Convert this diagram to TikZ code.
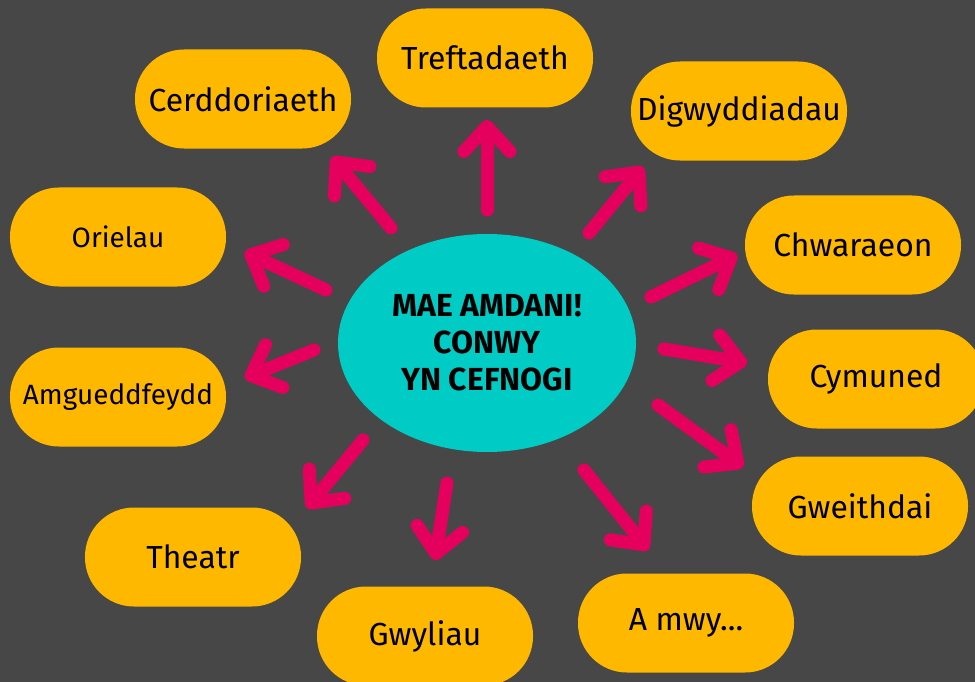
\documentclass[tikz,border=0pt]{standalone}
\usepackage{fontspec}
\setmainfont{Fira Sans}
\usetikzlibrary{arrows.meta,shapes.geometric}
\definecolor{bgcol}{HTML}{474747}
\definecolor{amber}{HTML}{FFB800}
\definecolor{hubcol}{HTML}{00CCC6}
\definecolor{arrowpink}{HTML}{E6005E}

\begin{document}
\begin{tikzpicture}[x=1bp,y=-1bp,
    box/.style={fill=amber,rounded corners=49bp,minimum width=216bp,minimum height=99bp,inner sep=0pt,font=\fontsize{32}{38}\selectfont},
    arr/.style={draw=arrowpink,line width=13bp,line cap=round,-{Straight Barb[length=25bp,width=46bp,round]}}]
  \fill[bgcol] (0,0) rectangle (975,682);
  \clip (0,0) rectangle (975,682);

  \node[ellipse,fill=hubcol,minimum width=298bp,minimum height=218bp,align=center,
        font=\bfseries\fontsize{32}{37}\selectfont] (hub) at (487,343) {MAE AMDANI!\\CONWY\\YN CEFNOGI};

  \node[box] (tref) at (485,58) {Treftadaeth};
  \node[box] (cerd) at (243,99) {Cerddoriaeth};
  \node[box] (digw) at (739,111) {Digwyddiadau};
  \node[box,font=\fontsize{28}{34}\selectfont] (orie) at (118,237) {Orielau};
  \node[box,font=\fontsize{28}{34}\selectfont] (amgu) at (118,397) {Amgueddfeydd};
  \node[box] (chwa) at (853,245) {Chwaraeon};
  \node[box] (cymu) at (876,379) {Cymuned};
  \node[box] (gwei) at (860,506) {Gweithdai};
  \node[box] (thea) at (193,557) {Theatr};
  \node[box] (gwyl) at (425,636) {Gwyliau};
  \node[box] (amwy) at (686,623) {A mwy...};

  \foreach \n/\xa/\ya/\xb/\yb in {tref/487/210/487/120, cerd/391/228/332/157,
      digw/589/233/643/167, orie/326/290/245/252, amgu/314/350/245/378,
      chwa/651/297/737/255, cymu/664/349/747/363, gwei/658/405/743/467,
      amwy/584/470/648/550, gwyl/447/483/435/560, thea/363/440/307/508}{
    \coordinate (\n-s) at (\xa,\ya);
    \coordinate (\n-e) at (\xb,\yb);
    \draw[arr] (\n-s) -- (\n-e);
  }
\end{tikzpicture}
\end{document}
